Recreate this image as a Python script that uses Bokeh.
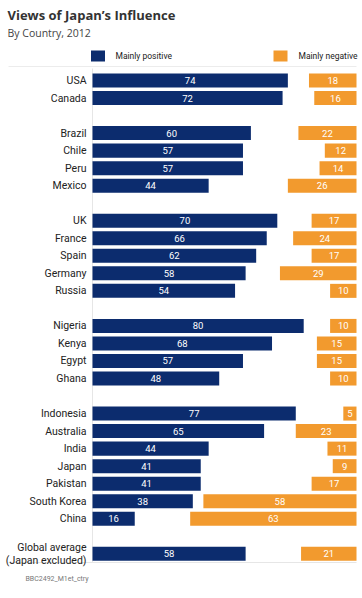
from bokeh.plotting import figure
from bokeh.models import Range1d, ColumnDataSource, Label
from bokeh.core.properties import value
from bokeh.embed import file_html
from bokeh.resources import INLINE

# ---- data ----
groups = [
    ["USA", "Canada"],
    ["Brazil", "Chile", "Peru", "Mexico"],
    ["UK", "France", "Spain", "Germany", "Russia"],
    ["Nigeria", "Kenya", "Egypt", "Ghana"],
    ["Indonesia", "Australia", "India", "Japan", "Pakistan", "South Korea", "China"],
    ["Global average\n(Japan excluded)"],
]
positive = [74, 72, 60, 57, 57, 44, 70, 66, 62, 58, 54, 80, 68, 57, 48,
            77, 65, 44, 41, 41, 38, 16, 58]
negative = [18, 16, 22, 12, 14, 26, 17, 24, 17, 29, 10, 10, 15, 15, 10,
            5, 23, 11, 9, 17, 58, 63, 21]
series_names = ["Mainly positive", "Mainly negative"]
TOTAL = 100

NAVY = "#0c2c6e"
ORANGE = "#f29a2e"
FONT = "Roboto"
TFONT = "Open Sans"

# ---- layout helpers (page px -> data) ----
W, H = 360, 596
OX, OY = 0, 0     # page offset of the canvas
K = 2.64          # px per percentage point
X0 = 92           # page x of zero
ROW = 17.53       # px per row slot
Y0 = 80           # page y of first row


def dx(px):
    return (px - X0) / K


def dy(py):
    return (py - Y0) / ROW


cats, slots = [], []
s = 0
for g in groups:
    for c in g:
        cats.append(c)
        slots.append(s)
        s += 1
    s += 1

src = ColumnDataSource(dict(
    cat=cats, slot=slots, pos=positive, neg=negative,
    neg_left=[TOTAL - n for n in negative],
    pos_mid=[v / 2 for v in positive],
    neg_mid=[TOTAL - n / 2 for n in negative],
    pos_txt=[str(v) for v in positive],
    neg_txt=[str(v) for v in negative],
))

p = figure(width=W, height=H, output_backend="svg", toolbar_location=None,
           x_range=Range1d(dx(OX), dx(OX + W)), y_range=Range1d(dy(OY + H), dy(OY)),
           min_border=0, outline_line_color=None)
p.axis.visible = False
p.grid.visible = False
p.background_fill_color = "white"
p.border_fill_color = "white"

# faint frame lines
p.segment(x0=[dx(8)], x1=[dx(356)], y0=[dy(66)], y1=[dy(66)], line_color="#ececec", line_width=1)
p.segment(x0=[dx(8)], x1=[dx(356)], y0=[dy(562)], y1=[dy(562)], line_color="#e6e6e6", line_width=1)
p.segment(x0=[0], x1=[0], y0=[dy(68)], y1=[dy(562)], line_color="#e6e6e6", line_width=1)

# bars
p.hbar(y="slot", left=0, right="pos", height=0.8, source=src,
       fill_color=NAVY, line_color=None)
p.hbar(y="slot", left="neg_left", right=TOTAL, height=0.8, source=src,
       fill_color=ORANGE, line_color=None)

# value labels
p.text(x="pos_mid", y="slot", text="pos_txt", source=src, text_color="white",
       text_font=value(FONT), text_font_size="9.5px", text_align="center",
       text_baseline="middle")
p.text(x="neg_mid", y="slot", text="neg_txt", source=src, text_color="white",
       text_font=value(FONT), text_font_size="9.5px", text_align="center",
       text_baseline="middle")

# category labels
p.text(x=dx(86), y="slot", text="cat", source=src, text_color="#222222",
       text_font=value(FONT), text_font_size="10.5px", text_align="right",
       text_baseline="middle", text_line_height=1.0)

# title / subtitle / footer
p.add_layout(Label(x=dx(7), y=dy(14), text="Views of Japan\u2019s Influence",
                   text_font=TFONT, text_font_size="13px", text_font_style="bold",
                   text_color="#333333", text_baseline="middle"))
p.add_layout(Label(x=dx(7), y=dy(32), text="By Country, 2012",
                   text_font=TFONT, text_font_size="10.5px",
                   text_color="#444444", text_baseline="middle"))
p.add_layout(Label(x=dx(25), y=dy(578), text="BBC2492_M1et_ctry",
                   text_font=FONT, text_font_size="7px",
                   text_color="#777777", text_baseline="middle"))

# legend
p.rect(x=[dx(97.5), dx(280)], y=[dy(55.5), dy(55.5)], width=14 / K, height=11 / ROW,
       fill_color=[NAVY, ORANGE], line_color=None)
p.text(x=[dx(115), dx(298)], y=[dy(55.5), dy(55.5)], text=series_names,
       text_font=value(FONT), text_font_size="8.5px", text_color="#222222",
       text_baseline="middle")

open("out.html", "w").write(file_html(p, INLINE))
